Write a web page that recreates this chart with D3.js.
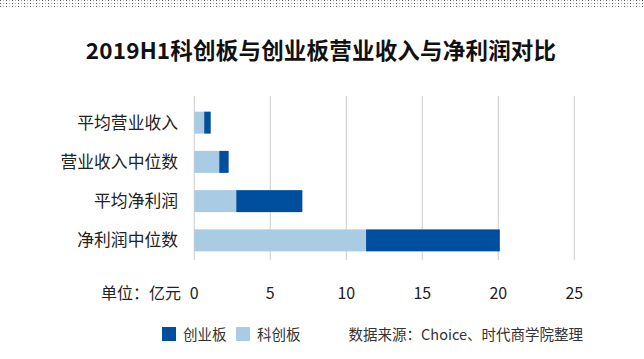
<!DOCTYPE html>
<html><head><meta charset="utf-8">
<script src="https://cdn.jsdelivr.net/npm/d3@7"></script>
<style>body{margin:0;background:#fff;}svg{display:block;font-family:"Noto Sans CJK SC","Noto Sans",sans-serif;}</style>
</head><body><svg id="c" width="644" height="359"></svg>
<script>
const categories = ["平均营业收入","营业收入中位数","平均净利润","净利润中位数"];
const kechuang = [0.65, 1.64, 2.76, 11.3];   // 科创板
const chuangye = [0.43, 0.62, 4.35, 8.8];    // 创业板
const ticks = [0,5,10,15,20,25];
const seriesNames = ["创业板","科创板"];
const colors = {"创业板":"#004f9f","科创板":"#a9cbe3"};

const svg = d3.select("#c");
// dotted top border
const dots = [];
for (let r=0;r<3;r++) for (let x=0;x<644;x+=3) dots.push({x, y:r*3, i:x/3});
svg.append("g").selectAll("rect").data(dots).join("rect")
  .attr("x",d=>d.x).attr("y",d=>d.y).attr("width",1).attr("height",1)
  .attr("fill",d=>d.i%2?"#aaa":"#555");

svg.append("text").attr("x",321).attr("y",59).attr("text-anchor","middle")
  .attr("font-size",22.5).attr("font-weight","bold").attr("fill","#111")
  .attr("letter-spacing",0.2)
  .text("2019H1科创板与创业板营业收入与净利润对比");

const x = d3.scaleLinear().domain([0,25]).range([194.3,574.3]);
const y = d3.scaleBand().domain(categories).range([103,260]).paddingInner(0.44).paddingOuter(0.22);

svg.append("g").selectAll("line").data(ticks).join("line")
  .attr("x1",d=>x(d)).attr("x2",d=>x(d)).attr("y1",96).attr("y2",260)
  .attr("stroke","#d4d4d4").attr("stroke-width",1.2);

const rows = categories.map((c,i)=>({c, k:kechuang[i], cy:chuangye[i]}));
const g = svg.append("g");
g.selectAll(".k").data(rows).join("rect")
  .attr("x",x(0)).attr("y",d=>y(d.c)).attr("height",y.bandwidth())
  .attr("width",d=>x(d.k)-x(0)).attr("fill",colors["科创板"]);
g.selectAll(".cy").data(rows).join("rect")
  .attr("x",d=>x(d.k)).attr("y",d=>y(d.c)).attr("height",y.bandwidth())
  .attr("width",d=>x(d.k+d.cy)-x(d.k)).attr("fill",colors["创业板"]);

svg.append("g").selectAll("text").data(categories).join("text")
  .attr("x",178).attr("y",d=>y(d)+y.bandwidth()/2+6).attr("text-anchor","end")
  .attr("font-size",16.8).attr("fill","#222").text(d=>d);

svg.append("g").selectAll("text").data(ticks).join("text")
  .attr("x",d=>x(d)).attr("y",299).attr("text-anchor","middle")
  .attr("font-size",16).attr("fill","#222").text(d=>d);
svg.append("text").attr("x",181).attr("y",299).attr("text-anchor","end")
  .attr("font-size",16).attr("fill","#222").text("单位：亿元");

// legend
const lx = [162, 236];
seriesNames.forEach((s,i)=>{
  svg.append("rect").attr("x",lx[i]).attr("y",327).attr("width",14).attr("height",14).attr("fill",colors[s]);
  svg.append("text").attr("x",lx[i]+21).attr("y",340).attr("font-size",14.5).attr("fill","#333").text(s);
});
svg.append("text").attr("x",583).attr("y",340).attr("text-anchor","end").attr("font-size",14.5).attr("fill","#333")
  .text("数据来源：Choice、时代商学院整理");
</script></body></html>
